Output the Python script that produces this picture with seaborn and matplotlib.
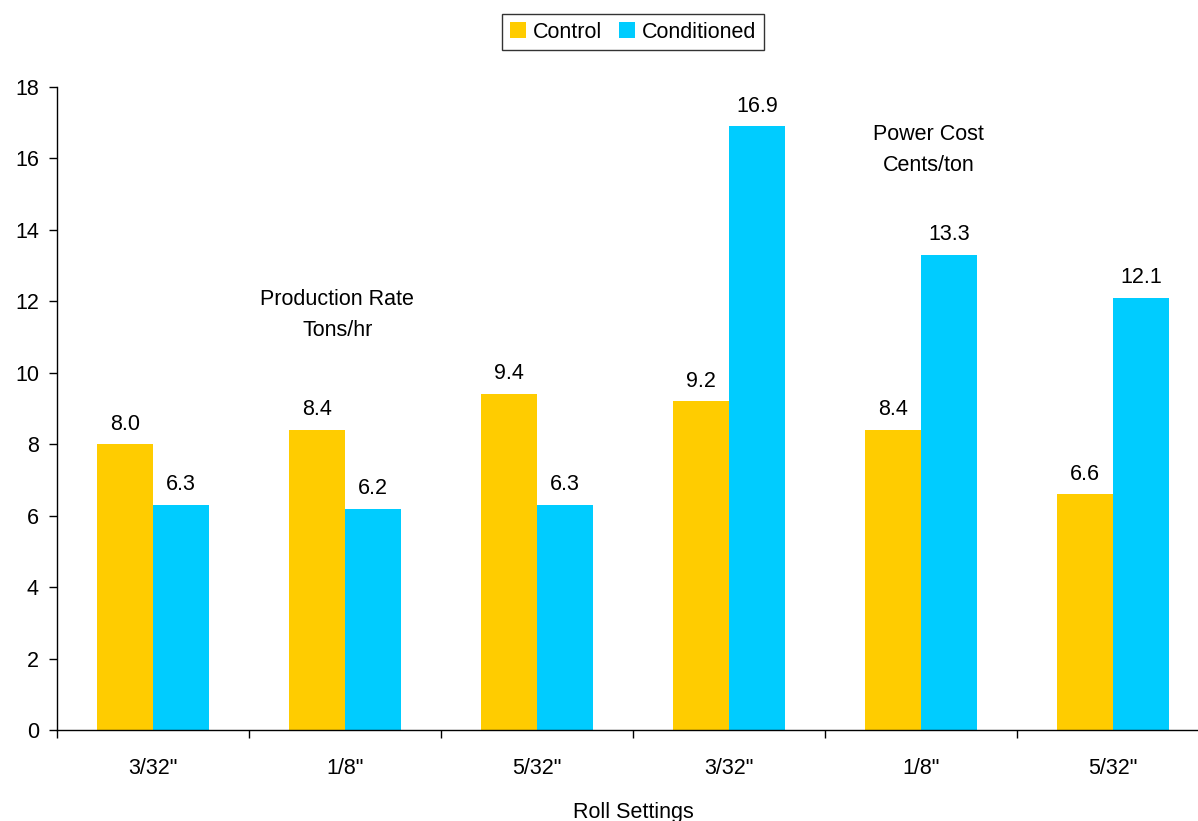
import matplotlib
matplotlib.use("Agg")
import matplotlib.pyplot as plt
import seaborn as sns
import pandas as pd
import numpy as np
from matplotlib.ticker import FixedLocator

categories = ['3/32"', '1/8"', '5/32"', '3/32"', '1/8"', '5/32"']
control = [8.0, 8.4, 9.4, 9.2, 8.4, 6.6]
conditioned = [6.3, 6.2, 6.3, 16.9, 13.3, 12.1]
series = ["Control", "Conditioned"]
colors = ["#FFCC00", "#00CCFF"]

sns.set_theme(style="white")
plt.rcParams['font.family'] = ['Liberation Sans', 'DejaVu Sans']
plt.rcParams['text.color'] = 'black'
plt.rcParams['xtick.color'] = 'black'
plt.rcParams['ytick.color'] = 'black'
plt.rcParams['axes.labelcolor'] = 'black'

keys = [f"c{i}" for i in range(len(categories))]
df = pd.DataFrame({
    "key": keys * 2,
    "value": control + conditioned,
    "series": [series[0]] * len(keys) + [series[1]] * len(keys),
})

FS = 15.5

fig = plt.figure(figsize=(11.98, 8.21), dpi=100)
ax = fig.add_axes([57 / 1198, 1 - 730 / 821, (1209 - 57) / 1198, (730 - 87) / 821])

sns.barplot(data=df, x="key", y="value", hue="series", order=keys,
            hue_order=series, palette=colors, width=0.58, saturation=1,
            errorbar=None, ax=ax, edgecolor="none", linewidth=0)

for cont in ax.containers:
    ax.bar_label(cont, fmt="%.1f", padding=7, fontsize=FS, color="black")

ax.set_ylim(0, 18)
ax.set_xlim(-0.5, len(keys) - 0.5)
ax.set_yticks(np.arange(0, 19, 2))
ax.set_xticks(range(len(keys)))
ax.set_xticklabels(categories)
ax.xaxis.set_minor_locator(FixedLocator(np.arange(-0.5, len(keys), 1.0)))
ax.tick_params(axis="x", which="major", length=0, pad=20, labelsize=FS, labelcolor="black")
ax.tick_params(axis="x", which="minor", length=6, width=1, direction="out", color="black", bottom=True)
ax.tick_params(axis="y", length=6, width=1, direction="out", color="black", left=True,
               labelsize=FS, labelcolor="black", pad=7)
for s in ["top", "right"]:
    ax.spines[s].set_visible(False)
for s in ["left", "bottom"]:
    ax.spines[s].set_color("black")
    ax.spines[s].set_linewidth(1)
ax.set_ylabel("")
ax.set_xlabel("Roll Settings", fontsize=FS, color="black")
ax.xaxis.set_label_coords(0.5, -(802 - 730) / 643)

ax.text(0.96, 11.62, "Production Rate\nTons/hr", ha="center", va="center",
        fontsize=FS, linespacing=1.6, color="black")
ax.text(4.04, 16.24, "Power Cost\nCents/ton", ha="center", va="center",
        fontsize=FS, linespacing=1.6, color="black")

leg = ax.legend(loc="center", bbox_to_anchor=(633 / 1198, 1 - 32 / 821),
                bbox_transform=fig.transFigure, ncol=2, frameon=True,
                fancybox=False, edgecolor="black", fontsize=FS,
                handlelength=0.75, handleheight=0.75, handletextpad=0.3,
                columnspacing=0.8, borderpad=0.35)
leg.get_frame().set_linewidth(1)
for t in leg.get_texts():
    t.set_color("black")

fig.savefig("out.png", dpi=100)
